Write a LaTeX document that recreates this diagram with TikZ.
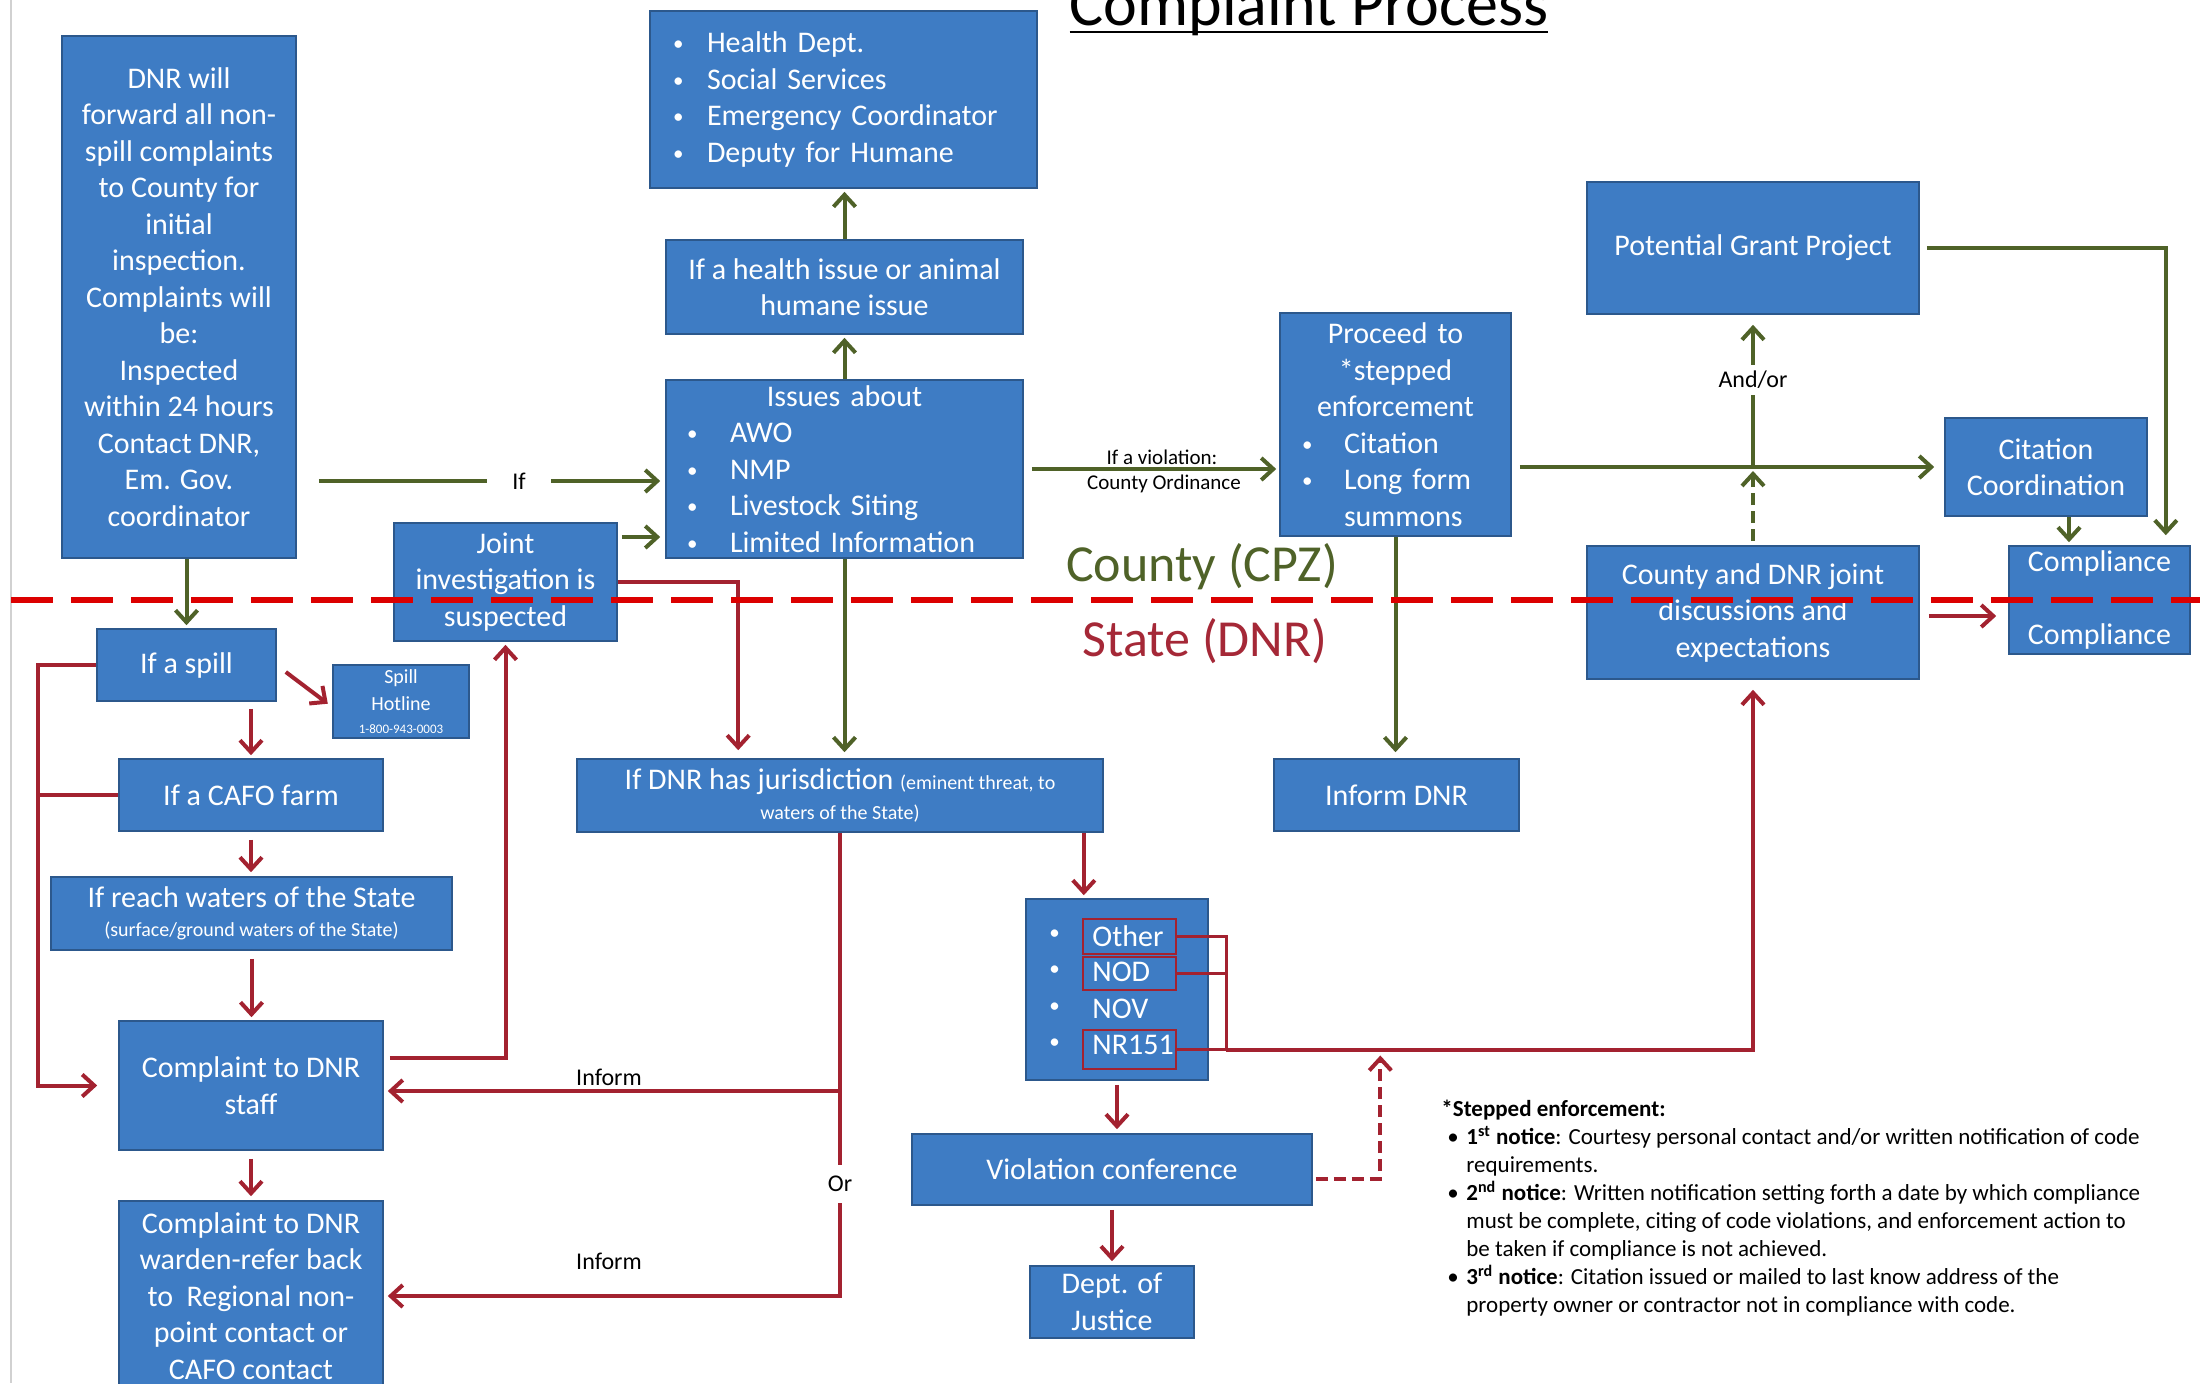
\documentclass[tikz,border=0pt]{standalone}
\usepackage{fontspec}
\setmainfont{Carlito}
\usetikzlibrary{arrows.meta,calc}
\definecolor{boxfill}{RGB}{62,124,196}
\definecolor{boxline}{RGB}{44,88,140}
\definecolor{grn}{RGB}{79,98,40}
\definecolor{rd}{RGB}{163,34,48}
\definecolor{dashred}{RGB}{220,0,0}
\definecolor{statered}{RGB}{165,40,55}
\newcommand{\smbul}{\raisebox{1pt}{\fontsize{10.5}{10.5}\selectfont\textbullet}}
\newcommand{\mybul}[1]{\makebox[#1][l]{\smbul}}
\begin{document}
\begin{tikzpicture}[x=0.5pt,y=-0.5pt,
  box/.style={draw=boxline,line width=0.8pt,fill=boxfill,text=white,inner sep=0pt,align=center,font=\fontsize{15}{18.25}\selectfont},
  sz/.style 2 args={minimum width=#1*0.5pt,minimum height=#2*0.5pt},
  wtxt/.style={text=white,inner sep=0pt,font=\fontsize{15}{18.25}\selectfont},
  gl/.style={draw=grn,line width=2pt},
  ga/.style={gl,-{Straight Barb[length=6pt,width=11pt]},shorten >=1.5pt},
  rl/.style={draw=rd,line width=2pt},
  ra/.style={rl,-{Straight Barb[length=6pt,width=11pt]},shorten >=1.5pt},
  rthin/.style={draw=rd,line width=1.5pt},
  lab/.style={inner sep=0pt,font=\fontsize{12}{14}\selectfont},
  rbox/.style={draw=rd,line width=1.3pt,inner sep=0pt}
]
\useasboundingbox (0,0) rectangle (2200,1383);
\fill[white] (0,0) rectangle (2200,1383);
\coordinate (lt) at (11,0);
\coordinate (lb) at (11,1383);
\draw[black!18,line width=0.8pt] (lt) -- (lb);

% title
\node[font=\fontsize{32}{36}\selectfont,inner sep=0pt,anchor=base] (title) at (1309,25) {\setbox0\hbox{Complaint Process}\rlap{\rule[-4.2pt]{\wd0}{1.4pt}}\box0};

% boxes
\node[box,sz={234}{522}] (dnr) at (179,297) {DNR will\\forward all non-\\spill complaints\\to County for\\initial\\inspection.\\Complaints will\\be:\\Inspected\\within 24 hours\\Contact DNR,\\Em. Gov.\\coordinator};
\node[box,sz={387}{177},align=left,text width=170.5pt] (health) at (843.5,99.5) {\mybul{17pt}Health Dept.\\\mybul{17pt}Social Services\\\mybul{17pt}Emergency Coordinator\\\mybul{17pt}Deputy for Humane};
\node[box,sz={357}{94}] (hissue) at (844.5,287) {If a health issue or animal\\humane issue};
\node[box,sz={357}{178},align=left,text width=157.5pt] (issues) at (844.5,469) {\makebox[\hsize][c]{Issues about}\\\mybul{21.5pt}AWO\\\mybul{21.5pt}NMP\\\mybul{21.5pt}Livestock Siting\\\mybul{21.5pt}Limited Information};
\node[box,sz={223}{118}] (joint) at (505.5,582) {Joint\\investigation is\\suspected};
\node[box,sz={231}{223},align=left,text width=93.5pt] (proceed) at (1395.5,424.5) {\makebox[\hsize][c]{Proceed to}\\\makebox[\hsize][c]{*stepped}\\\makebox[\hsize][c]{enforcement}\\\mybul{21pt}Citation\\\mybul{21pt}Long form\\\hspace*{21pt}summons};
\node[box,sz={332}{132}] (grant) at (1753,248) {Potential Grant Project};
\node[box,sz={202}{98}] (citation) at (2046,467) {Citation\\Coordination};
\node[box,sz={181}{108}] (compliance) at (2099.5,600) {Compliance\\[18pt]Compliance};
\node[box,sz={332}{133}] (joint2) at (1753,612.5) {County and DNR joint\\discussions and\\expectations};
\node[box,sz={179}{72}] (spill) at (186.5,665) {If a spill};
\node[box,sz={136}{73},font=\fontsize{10}{13.5}\selectfont] (hotline) at (401,701.5) {Spill\\Hotline\\[-2pt]{\fontsize{6.5}{8}\selectfont 1-800-943-0003}};
\node[box,sz={264}{72}] (cafo) at (251,795) {If a CAFO farm};
\node[box,sz={401}{73}] (waters) at (251.5,913.5) {If reach waters of the State\\[-4pt]{\fontsize{10}{12}\selectfont (surface/ground waters of the State)}};
\node[box,sz={264}{129}] (staff) at (251,1085.5) {Complaint to DNR\\staff};
\node[box,sz={264}{190}] (warden) at (251,1296) {Complaint to DNR\\warden-refer back\\to\ \ Regional non-\\point contact or\\CAFO contact};
\node[box,sz={526}{73}] (jur) at (840,795.5) {If DNR has jurisdiction {\fontsize{10}{12}\selectfont (eminent threat, to}\\[-3pt]{\fontsize{10}{12}\selectfont waters of the State)}};
\node[box,sz={245}{72}] (informdnr) at (1396.5,795) {Inform DNR};
\node[box,sz={182}{181}] (opts) at (1117,989.5) {};
\node[wtxt,anchor=west] (ob1) at (1049,936) {\smbul};
\node[wtxt,anchor=west] (ob2) at (1049,972) {\smbul};
\node[wtxt,anchor=west] (ob3) at (1049,1009) {\smbul};
\node[wtxt,anchor=west] (ob4) at (1049,1045) {\smbul};
\node[wtxt,anchor=west] (ot1) at (1092,936) {Other};
\node[wtxt,anchor=west] (ot2) at (1092,972) {NOD};
\node[wtxt,anchor=west] (ot3) at (1092,1009) {NOV};
\node[wtxt,anchor=west] (ot4) at (1092,1045) {NR151};
\node[rbox,sz={93}{35}] (rOther) at (1129.5,936.5) {};
\node[rbox,sz={93}{33}] (rNOD) at (1129.5,973.5) {};
\node[rbox,sz={93}{39}] (rNR) at (1129.5,1049.5) {};
\node[box,sz={400}{71}] (viol) at (1112,1169.5) {Violation conference};
\node[box,sz={164}{72}] (doj) at (1112,1302) {Dept. of\\Justice};

% labels
\node[lab,minimum width=32pt] (ifl) at (519,481) {If};
\node[lab,font=\fontsize{10.5}{12}\selectfont] (va) at (1162,457) {If a violation:};
\node[lab,font=\fontsize{10.5}{12}\selectfont] (vb) at (1164,484) {County Ordinance};
\node[lab,minimum height=15pt] (andor) at (1753,380) {And/or};
\node[lab] (inf1) at (609,1077) {Inform};
\node[lab] (inf2) at (609,1261) {Inform};
\node[lab,minimum height=19pt] (orl) at (840,1184) {Or};
\node[font=\fontsize{26}{30}\selectfont,text=grn,inner sep=0pt] (cty) at (1202,567) {County (CPZ)};
\node[font=\fontsize{26}{30}\selectfont,text=statered,inner sep=0pt] (st) at (1205,641) {State (DNR)};

\node[anchor=north west,inner sep=0pt,align=left,font=\fontsize{11.5}{14}\selectfont] (notes) at (1441,1100) {\textbf{*Stepped enforcement:}\\
\hspace*{3pt}\makebox[9.5pt][l]{\textbullet}\textbf{1\textsuperscript{st} notice}: Courtesy personal contact and/or written notification of code\\
\hspace*{12.5pt}requirements.\\
\hspace*{3pt}\makebox[9.5pt][l]{\textbullet}\textbf{2\textsuperscript{nd} notice}: Written notification setting forth a date by which compliance\\
\hspace*{12.5pt}must be complete, citing of code violations, and enforcement action to\\
\hspace*{12.5pt}be taken if compliance is not achieved.\\
\hspace*{3pt}\makebox[9.5pt][l]{\textbullet}\textbf{3\textsuperscript{rd} notice}: Citation issued or mailed to last know address of the\\
\hspace*{12.5pt}property owner or contractor not in compliance with code.};

% helper coordinates
\coordinate (ja) at ($(joint.east)+(4,-45)$);
\coordinate (aj) at (joint2.north |- citation.west);
\coordinate (cc) at ($(citation.south)+(23,0)$);
\coordinate (lx) at ($(spill.west)+(-58,0)$);
\coordinate (ia) at ($(staff.east)+(0,5.5)$);
\coordinate (jo) at ($(jur.south east)+(-20,0)$);
\coordinate (bus) at ($(rNR.east)+(49,0)$);
\coordinate (vs) at ($(viol.east)+(3,9)$);
\coordinate (vd) at ($(bus)+(154,0)$);
\coordinate (jc) at ($(joint2.east)+(9,3.5)$);

% green connectors
\draw[ga] (spill.north |- dnr.south) -- (spill.north);
\draw[gl] ($(dnr.east |- ifl)+(22,0)$) -- (ifl.west);
\draw[ga,shorten >=2.5pt] (ifl.east) -- (issues.west |- ifl);
\draw[ga,shorten >=2.5pt] (ja) -- (issues.west |- ja);
\draw[ga] (issues.north) -- (hissue.south);
\draw[ga] (hissue.north) -- (hissue.north |- health.south);
\draw[ga,shorten >=3pt] (issues.south) -- (issues.south |- jur.north);
\draw[ga,shorten <=4pt] (issues.east) -- (issues.east -| proceed.west);
\draw[ga,shorten >=3pt] (proceed.south) -- (proceed.south |- informdnr.north);
\draw[ga,shorten <=4pt,shorten >=5pt] (proceed.east |- citation.west) -- (citation.west);
\draw[gl] (aj) -- (andor.south);
\draw[ga,shorten >=5pt] (andor.north) -- (grant.south);
\draw[ga,dash pattern=on 6pt off 3pt,shorten <=2pt,shorten >=2pt] (joint2.north) -- (aj);
\draw[ga,shorten >=5pt] ($(grant.east)+(7,0)$) -| ($(compliance.north east)+(-25,0)$);
\draw[ga] (cc) -- (cc |- compliance.north);

% red connectors
\draw[ra] ($(spill.east)+(9,7)$) -- ($(hotline.west)+(-2,4)$);
\draw[ra,shorten <=3.5pt] (cafo.north |- spill.south) -- (cafo.north);
\draw[ra,shorten <=4pt,shorten >=2pt] (cafo.south) -- (cafo.south |- waters.north);
\draw[ra,shorten <=4pt] (waters.south) -- (waters.south |- staff.north);
\draw[ra,shorten <=4pt,shorten >=2pt] (staff.south) -- (warden.north);
\draw[ra] (spill.west) -- (lx) |- ($(staff.west)+(-18,0)$);
\draw[rl] (cafo.west) -- (cafo.west -| lx);
\draw[ra] ($(staff.east)+(6,-27.5)$) -| (joint.south);
\draw[ra,shorten >=4pt] (joint.east) -| ($(jur.north west)+(162,0)$);
\draw[rl] (jur.south) -- (orl.north);
\draw[ra,shorten >=2pt] (orl.south) |- (warden.east);
\draw[ra,shorten >=2pt] (jur.south |- ia) -- (ia);
\draw[ra] (jo) -- (jo |- opts.north);
\draw[ra,shorten <=2pt,shorten >=2pt] (opts.south) -- (opts.south |- viol.north);
\draw[ra,shorten <=2pt,shorten >=2pt] (viol.south) -- (doj.north);
\draw[ra,dash pattern=on 6pt off 3pt,shorten >=3pt] (vs) -| (vd);
\draw[rthin] (rOther.east) -| (bus);
\draw[rthin] (rNOD.east) -- (rNOD.east -| bus);
\draw[rthin] (rNR.east) -- (bus);
\draw[ra,shorten >=5pt] (bus) -| (joint2.south);
\draw[ra,shorten >=6pt] (jc) -- (jc -| compliance.west);

% boundary
\coordinate (bl) at (11,600);
\coordinate (br) at (2200,600);
\draw[draw=dashred,line width=2.8pt,dash pattern=on 21pt off 9pt] (bl) -- (br);
\end{tikzpicture}
\end{document}
